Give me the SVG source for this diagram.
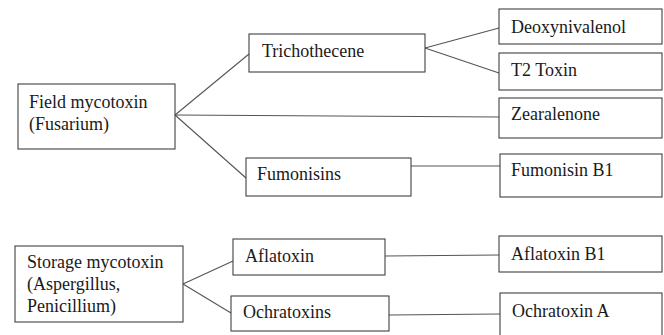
<svg xmlns="http://www.w3.org/2000/svg" width="664" height="335" viewBox="0 0 664 335">
<style>
rect{fill:#fff;stroke:#404040;stroke-width:1.1}
text{font-family:"Liberation Serif","Times New Roman",serif;font-size:18px;fill:#1a1a1a}
#connectors line{stroke:#555;stroke-width:1.1}
</style>
<rect x="0" y="0" width="664" height="335" style="stroke:none"/>
<g id="connectors">
<line x1="175" y1="115" x2="249" y2="54"/>
<line x1="175" y1="115" x2="246" y2="178"/>
<line x1="175" y1="115" x2="499" y2="117"/>
<line x1="425" y1="48" x2="499" y2="28"/>
<line x1="425" y1="48" x2="499" y2="73"/>
<line x1="411" y1="166" x2="500" y2="166"/>
<line x1="183" y1="284" x2="233" y2="261"/>
<line x1="183" y1="284" x2="231" y2="313"/>
<line x1="385" y1="256" x2="499" y2="255"/>
<line x1="389" y1="315" x2="500" y2="314"/>
</g>
<g id="field"><rect x="18" y="84" width="157" height="65"/><text x="29" y="108">Field mycotoxin</text><text x="29" y="130">(Fusarium)</text></g>
<g id="trichothecene"><rect x="249" y="34" width="176" height="38"/><text x="262" y="57">Trichothecene</text></g>
<g id="fumonisins"><rect x="246" y="158" width="165" height="38"/><text x="257" y="180">Fumonisins</text></g>
<g id="deoxynivalenol"><rect x="499" y="9" width="163" height="35"/><text x="511" y="33">Deoxynivalenol</text></g>
<g id="t2toxin"><rect x="499" y="53" width="163" height="37"/><text x="511" y="76">T2 Toxin</text></g>
<g id="zearalenone"><rect x="499" y="98" width="163" height="40"/><text x="511" y="120">Zearalenone</text></g>
<g id="fumonisinb1"><rect x="500" y="154" width="162" height="43"/><text x="511" y="176">Fumonisin B1</text></g>
<g id="storage"><rect x="15" y="246" width="168" height="76"/><text x="27" y="268">Storage mycotoxin</text><text x="27" y="290">(Aspergillus,</text><text x="27" y="312">Penicillium)</text></g>
<g id="aflatoxin"><rect x="233" y="239" width="152" height="36"/><text x="245" y="262">Aflatoxin</text></g>
<g id="ochratoxins"><rect x="231" y="296" width="158" height="35"/><text x="243" y="318">Ochratoxins</text></g>
<g id="aflatoxinb1"><rect x="499" y="236" width="163" height="36"/><text x="511" y="260">Aflatoxin B1</text></g>
<g id="ochratoxina"><rect x="500" y="293" width="162" height="50"/><text x="512" y="317">Ochratoxin A</text></g>
</svg>
